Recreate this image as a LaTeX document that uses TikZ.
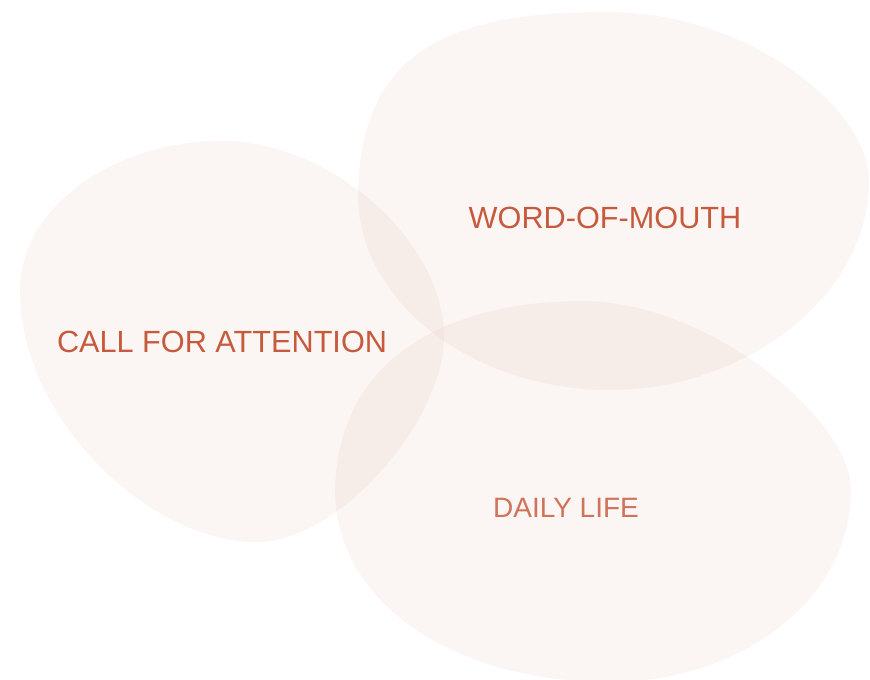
\documentclass[tikz,border=0pt]{standalone}
\usepackage{fontspec}
\setmainfont{Liberation Sans}
\definecolor{blobtint}{RGB}{180,95,60}
\definecolor{labelred}{RGB}{198,90,60}
\tikzset{
    blob/.style={fill=blobtint, fill opacity=0.06, draw=none}, % the soft shapes
    label/.style={text=labelred, font=\fontsize{23}{23}\selectfont, inner sep=0pt} % the words
}

\begin{document}
\begin{tikzpicture}[x=0.75pt, y=-0.75pt]
            \useasboundingbox (0,0) rectangle (870,679);
            \clip (0,0) rectangle (870,679);

            % left shape
            \fill[blob] (222,141) .. controls (330,141) and (444,240) .. (444,337)
                .. controls (444,420) and (340,542) .. (256,542)
                .. controls (150,542) and (20,420) .. (20,290)
                .. controls (20,210) and (110,141) .. cycle;
            % upper right shape
            \fill[blob] (607,12) .. controls (750,12) and (869,110) .. (869,180)
                .. controls (869,300) and (740,390) .. (611,390)
                .. controls (470,390) and (358,300) .. (358,195)
                .. controls (360,50) and (450,12) .. cycle;
            % lower shape
            \fill[blob] (582,301) .. controls (710,301) and (851,420) .. (851,490)
                .. controls (851,600) and (740,682) .. (610,682)
                .. controls (450,682) and (335,600) .. (335,490)
                .. controls (338,350) and (460,301) .. cycle;

            \node[label] (attention) at (222,342) {CALL FOR ATTENTION};
            \node[label] (mouth) at (605,218) {WORD-OF-MOUTH};
            \node[label, font=\fontsize{21}{21}\selectfont, text=labelred!85] (daily) at (566,508) {DAILY LIFE};
        \end{tikzpicture}
\end{document}
